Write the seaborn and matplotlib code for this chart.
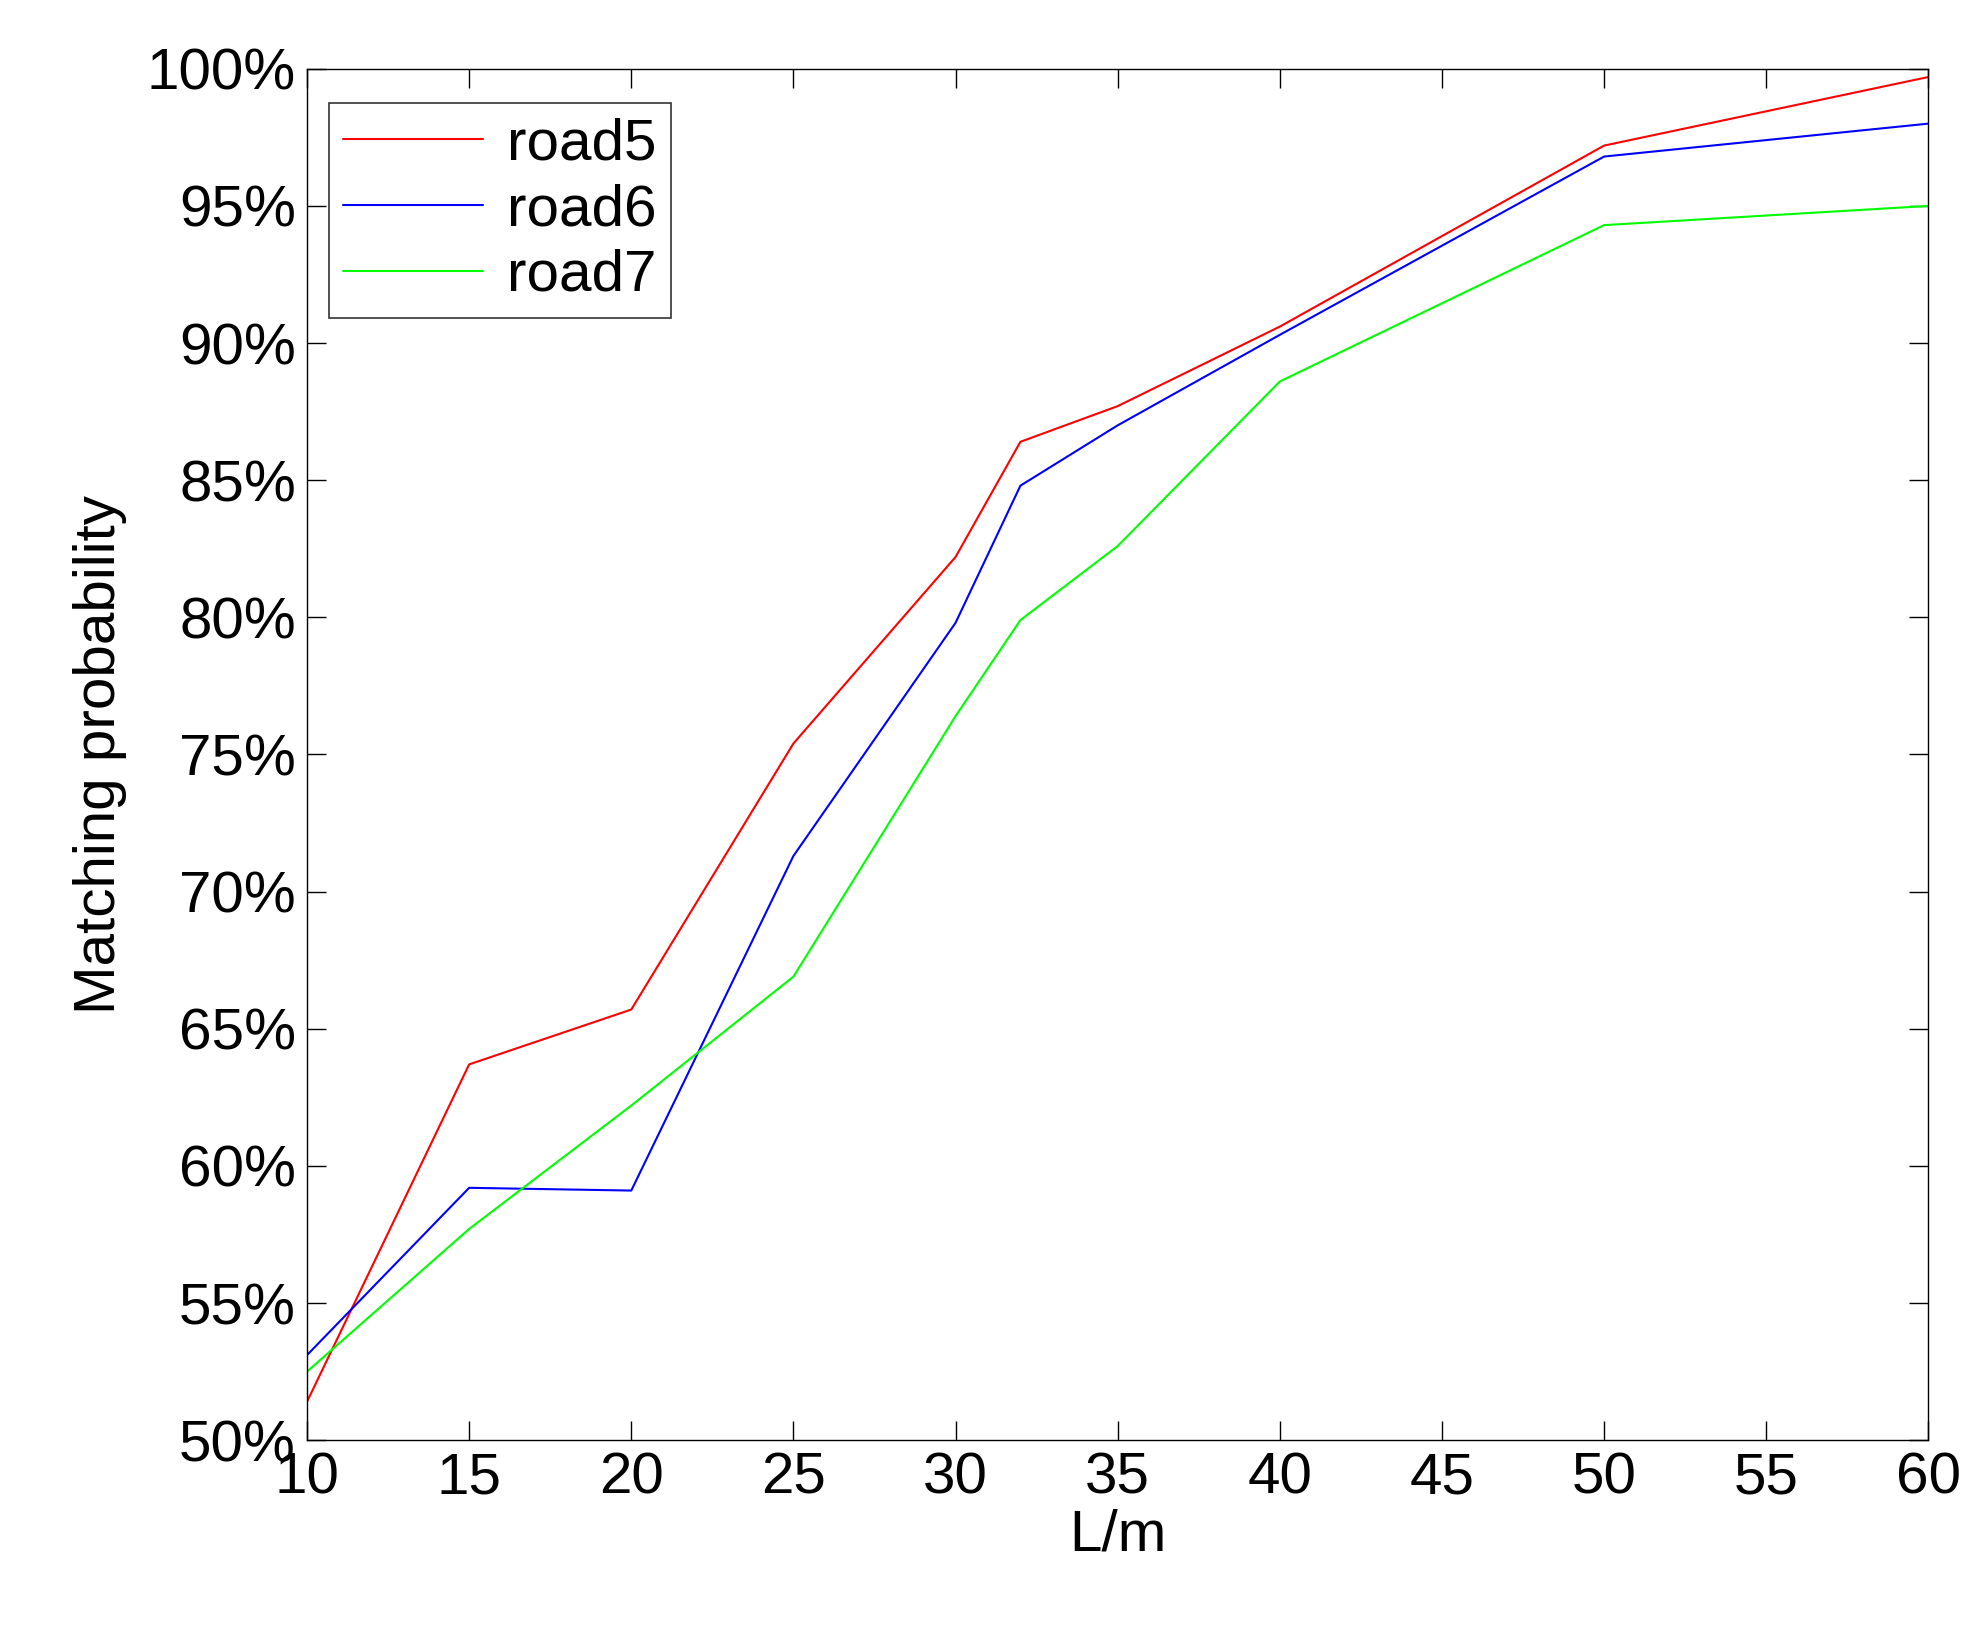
import numpy as np
import matplotlib.pyplot as plt
import pandas as pd
import seaborn as sns
from matplotlib.ticker import PercentFormatter

sns.set_style("white")
plt.rcParams['font.family'] = ['Liberation Sans', 'DejaVu Sans']
plt.rcParams['text.color'] = 'black'
plt.rcParams['axes.labelcolor'] = 'black'
plt.rcParams['xtick.color'] = 'black'
plt.rcParams['ytick.color'] = 'black'

L = [10, 15, 20, 25, 30, 32, 35, 40, 50, 60]
road5 = [51.4, 63.7, 65.7, 75.4, 82.2, 86.4, 87.7, 90.6, 97.2, 99.7]
road6 = [53.1, 59.2, 59.1, 71.3, 79.8, 84.8, 87.0, 90.3, 96.8, 98.0]
road7 = [52.5, 57.7, 62.2, 66.9, 76.4, 79.9, 82.6, 88.6, 94.3, 95.0]

df = pd.DataFrame({'L': L, 'road5': road5, 'road6': road6, 'road7': road7})
long = df.melt(id_vars='L', var_name='road', value_name='p')

fig = plt.figure(figsize=(19.87, 16.26), dpi=100)
ax = fig.add_axes([0.1545, 0.1143, 0.816, 0.8434])
sns.lineplot(data=long, x='L', y='p', hue='road',
             palette={'road5': '#ff0000', 'road6': '#0000ff', 'road7': '#00ff00'},
             linewidth=1.5, ax=ax)

ax.set_xlim(10, 60)
ax.set_ylim(50, 100)
ax.set_xticks(np.arange(10, 61, 5))
ax.set_yticks(np.arange(50, 101, 5))
ax.yaxis.set_major_formatter(PercentFormatter(decimals=0))
ax.tick_params(direction='in', length=14, width=1, labelsize=42,
               top=True, right=True, bottom=True, left=True, pad=8)
for s in ax.spines.values():
    s.set_color('black')
    s.set_linewidth(1)
ax.set_xlabel('L/m', fontsize=42, labelpad=2)
ax.set_ylabel('Matching probability', fontsize=42, labelpad=14)

leg = ax.legend(loc='upper left', fontsize=42, frameon=True, fancybox=False,
                edgecolor='black', handlelength=2.4, handletextpad=0.4,
                borderpad=0.25, labelspacing=0.2, borderaxespad=0,
                bbox_to_anchor=(0.0135, 0.975))
leg.get_frame().set_linewidth(1.2)

fig.savefig('out.png', dpi=100)
